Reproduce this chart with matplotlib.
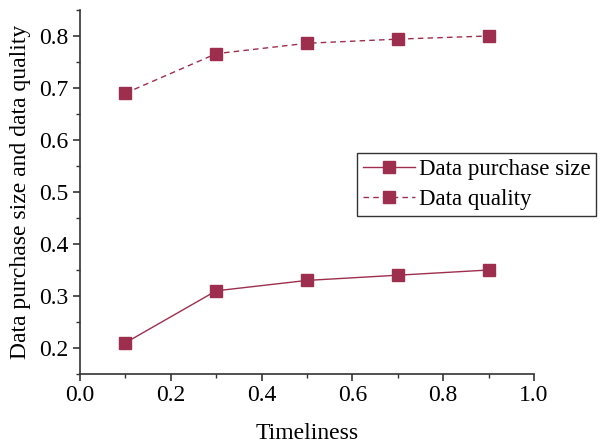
import matplotlib.pyplot as plt
from matplotlib.ticker import MultipleLocator

# data
timeliness = [0.1, 0.3, 0.5, 0.7, 0.9]
purchase_size = [0.21, 0.31, 0.33, 0.34, 0.35]
quality = [0.69, 0.766, 0.786, 0.794, 0.80]

plt.rcParams['font.family'] = ['Liberation Serif', 'DejaVu Serif']
color = '#9e2e4e'

fig = plt.figure(figsize=(6, 4.46), dpi=100)
ax = fig.add_axes([0.1333, 0.1614, 0.7567, 0.8162])

ax.plot(timeliness, purchase_size, '-', color=color, lw=1, marker='s', ms=8,
        label='Data purchase size')
ax.plot(timeliness, quality, '--', color=color, lw=1, marker='s', ms=8,
        dashes=(4, 3), label='Data quality')

ax.set_xlim(0, 1.0)
ax.set_ylim(0.15, 0.85)
ax.xaxis.set_major_locator(MultipleLocator(0.2))
ax.xaxis.set_minor_locator(MultipleLocator(0.1))
ax.yaxis.set_major_locator(MultipleLocator(0.1))
ax.yaxis.set_minor_locator(MultipleLocator(0.05))
ax.xaxis.set_major_formatter(lambda v, p: f'{v:.1f}')
ax.yaxis.set_major_formatter(lambda v, p: f'{v:.1f}')

for s in ['top', 'right']:
    ax.spines[s].set_visible(False)
for s in ['left', 'bottom']:
    ax.spines[s].set_linewidth(1.2)
    ax.spines[s].set_color('#333333')
ax.tick_params(which='major', direction='out', length=5, width=1.2,
               labelsize=17, color='#333333', pad=3)
ax.tick_params(which='minor', direction='out', length=3, width=1, color='#333333')

ax.set_xlabel('Timeliness', fontsize=17, labelpad=12)
ax.set_ylabel('Data purchase size and data quality', fontsize=17, labelpad=6)

leg = ax.legend(loc='upper left', bbox_to_anchor=(0.61, 0.607), fontsize=16.5,
                frameon=True, fancybox=False, borderaxespad=0, handlelength=2.3,
                labelspacing=0.4, borderpad=0.25, handletextpad=0.15)
leg.get_frame().set_edgecolor('black')
leg.get_frame().set_linewidth(1)

fig.savefig('out.png', dpi=100)
